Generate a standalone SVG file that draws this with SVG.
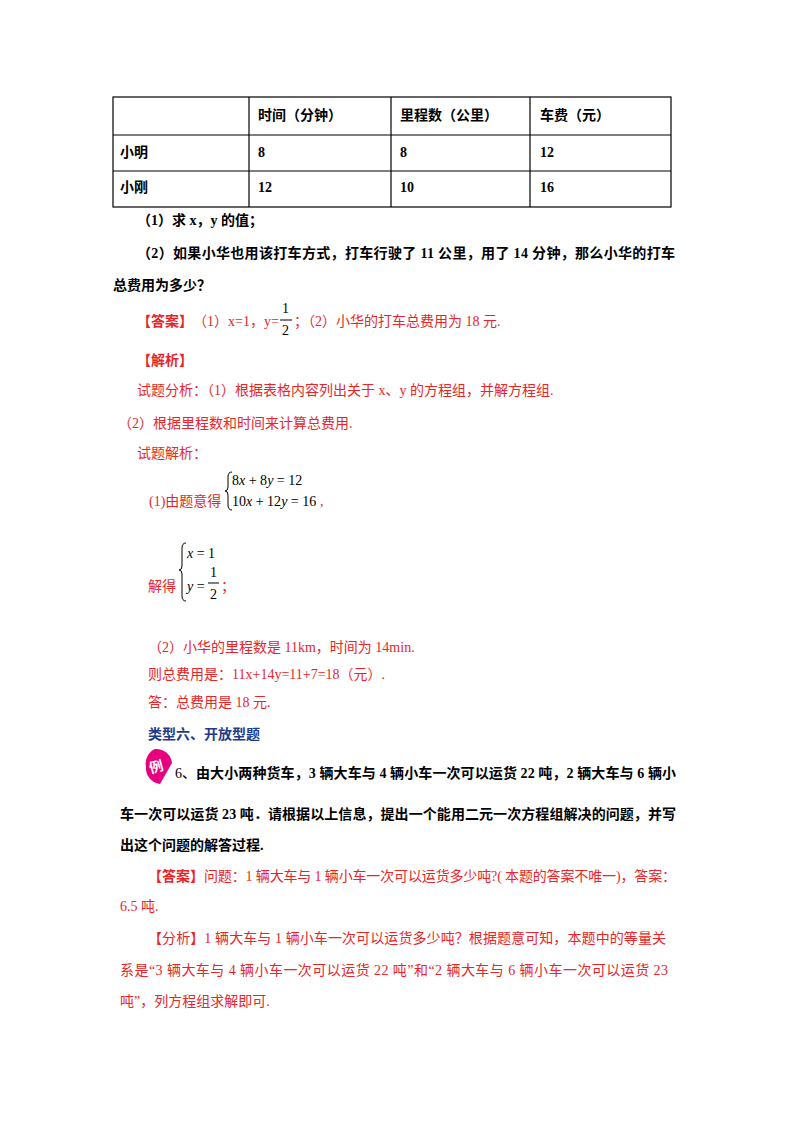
<svg xmlns="http://www.w3.org/2000/svg" width="800" height="1132" viewBox="0 0 800 1132">
<style>
text{font-family:"Liberation Serif","Noto Sans CJK SC",serif;font-size:14px}
.b{font-weight:bold;fill:#000}
.r{fill:#e8262a}
.rb{fill:#e8262a;font-weight:bold}
.m{font-style:italic}
.grid line{stroke:#000;stroke-width:1.2}
.brace{fill:none;stroke:#000;stroke-width:1}
</style>
<rect width="800" height="1132" fill="#fff"/>
<g id="table" class="grid">
<rect x="113" y="97" width="558" height="110" fill="none" stroke="#000" stroke-width="1.2"/>
<line x1="113" y1="135" x2="671" y2="135"/><line x1="113" y1="171" x2="671" y2="171"/>
<line x1="249" y1="97" x2="249" y2="207"/><line x1="391" y1="97" x2="391" y2="207"/><line x1="530" y1="97" x2="530" y2="207"/>
<text class="b" x="258" y="120">时间（分钟）</text><text class="b" x="400" y="120">里程数（公里）</text><text class="b" x="540" y="120">车费（元）</text>
<text class="b" x="120" y="157">小明</text><text class="b" x="258" y="157">8</text><text class="b" x="400" y="157">8</text><text class="b" x="540" y="157">12</text>
<text class="b" x="120" y="192">小刚</text><text class="b" x="258" y="192">12</text><text class="b" x="400" y="192">10</text><text class="b" x="540" y="192">16</text>
</g>
<g id="question">
<text class="b" x="137" y="225">（1）求 x，y 的值；</text>
<text class="b" x="137" y="258" textLength="538">（2）如果小华也用该打车方式，打车行驶了 11 公里，用了 14 分钟，那么小华的打车</text>
<text class="b" x="113" y="290">总费用为多少？</text>
</g>
<g id="answer">
<text class="rb" x="137" y="326">【答案】</text>
<text class="r" x="193" y="326">（1）x=1，y=</text>
<text x="282" y="313" font-size="13">1</text><line x1="280" y1="320" x2="292" y2="320" stroke="#000"/><text x="282" y="335" font-size="13">2</text>
<text class="r" x="294" y="326">；（2）小华的打车总费用为 18 元.</text>
<text class="rb" x="137" y="365">【解析】</text>
<text class="r" x="137" y="395">试题分析：（1）根据表格内容列出关于 x、y 的方程组，并解方程组.</text>
<text class="r" x="118" y="428">（2）根据里程数和时间来计算总费用.</text>
<text class="r" x="137" y="458">试题解析：</text>
<path class="brace" d="M232 472 Q228 472 228 477 L228 487 Q228 491 225 491 Q228 491 228 495 L228 505 Q228 510 232 510"/>
<text x="232" y="485" fill="#000">8<tspan class="m">x</tspan> + 8<tspan class="m">y</tspan> = 12</text>
<text x="232" y="506" fill="#000">10<tspan class="m">x</tspan> + 12<tspan class="m">y</tspan> = 16</text>
<text class="r" x="149" y="506">(1)由题意得</text><text class="r" x="320" y="506">,</text>
<path class="brace" d="M186 543 Q182 543 182 548 L182 566 Q182 570 179 570 Q182 570 182 574 L182 596 Q182 601 186 601"/>
<text x="187" y="558" fill="#000"><tspan class="m">x</tspan> = 1</text>
<text x="187" y="591" fill="#000"><tspan class="m">y</tspan> =</text>
<text x="210" y="577" font-size="13" fill="#000">1</text><line x1="208" y1="583" x2="219" y2="583" stroke="#000"/><text x="210" y="599" font-size="13" fill="#000">2</text>
<text class="r" x="148" y="591">解得</text><text class="r" x="221" y="591">；</text>
<text class="r" x="148" y="652">（2）小华的里程数是 11km，时间为 14min.</text>
<text class="r" x="148" y="679">则总费用是：11x+14y=11+7=18（元）.</text>
<text class="r" x="148" y="707">答：总费用是 18 元.</text>
</g>
<g id="section">
<text x="148" y="739" font-weight="bold" fill="#1f3a8a" font-size="15">类型六、开放型题</text>
</g>
<g id="example">
<path d="M155 749 a16 16 0 0 1 17 14 L160 784 a16 16 0 0 1 -14 -17 a16 16 0 0 1 9 -18 z" fill="#e6007e"/>
<text x="149" y="772" font-size="13" fill="#fff" font-weight="bold" transform="rotate(-15 156 766)">例</text>
<text x="175" y="778" fill="#000">6、</text>
<text class="b" x="196" y="778" textLength="480">由大小两种货车，3 辆大车与 4 辆小车一次可以运货 22 吨，2 辆大车与 6 辆小</text>
<text class="b" x="120" y="819" textLength="556">车一次可以运货 23 吨．请根据以上信息，提出一个能用二元一次方程组解决的问题，并写</text>
<text class="b" x="120" y="850">出这个问题的解答过程.</text>
<text class="rb" x="148" y="881">【答案】</text>
<text class="r" x="204" y="881" textLength="472">问题：1 辆大车与 1 辆小车一次可以运货多少吨?( 本题的答案不唯一)，答案：</text>
<text class="r" x="120" y="911">6.5 吨.</text>
<text class="r" x="148" y="943" textLength="518">【分析】1 辆大车与 1 辆小车一次可以运货多少吨？根据题意可知，本题中的等量关</text>
<text class="r" x="120" y="975" textLength="548">系是“3 辆大车与 4 辆小车一次可以运货 22 吨”和“2 辆大车与 6 辆小车一次可以运货 23</text>
<text class="r" x="120" y="1006">吨”，列方程组求解即可.</text>
</g>
</svg>
